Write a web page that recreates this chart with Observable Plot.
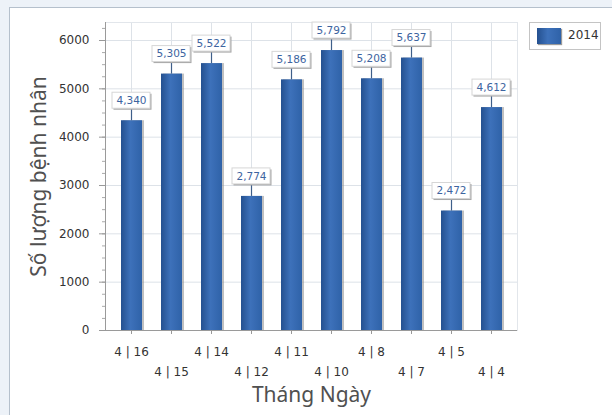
<!DOCTYPE html>
<html>
<head>
<meta charset="utf-8">
<script src="https://cdn.jsdelivr.net/npm/d3@7"></script>
<script src="https://cdn.jsdelivr.net/npm/@observablehq/plot@0.6"></script>
<style>
  html, body { margin: 0; padding: 0; }
  #wrap { position: relative; width: 612px; height: 415px; background: #edf2f8; overflow: hidden; }
  #panel { position: absolute; left: 9px; top: 7px; width: 620px; height: 430px; background: #fff; border: 1px solid #b5c0cc; }
  #chart { position: absolute; left: 0; top: 0; }
  #legend { position: absolute; left: 529px; top: 22px; width: 72px; height: 28px; border: 1px solid #c4c4c4; background: #fff; box-sizing: border-box; }
  #legend .sw { position: absolute; left: 7px; top: 5px; width: 24px; height: 16px; background: linear-gradient(to right, #24508f, #3d71ba 45%, #2f62a8); box-shadow: 1px 1px 1px #999; }
  #legend .lb { position: absolute; left: 38px; top: 5px; font: 12px "DejaVu Sans", sans-serif; color: #333; }
</style>
</head>
<body>
<div id="wrap">
  <div id="panel"></div>
  <div id="chart"></div>
  <div id="legend"><div class="sw"></div><div class="lb">2014</div></div>
</div>
<script>
const categories = ["4 | 16","4 | 15","4 | 14","4 | 12","4 | 11","4 | 10","4 | 8","4 | 7","4 | 5","4 | 4"];
const values2014 = [4340, 5305, 5522, 2774, 5186, 5792, 5208, 5637, 2472, 4612];
const yTicks = [0, 1000, 2000, 3000, 4000, 5000, 6000];
const xTitle = "Tháng Ngày";
const yTitle = "Số lượng bệnh nhân";
const seriesName = "2014";

const data = categories.map((c, i) => ({cat: c, v: values2014[i]}));
const rowA = categories.filter((c, i) => i % 2 === 0);
const rowB = categories.filter((c, i) => i % 2 === 1);

// pixel-to-unit helper for label offsets (plot height 308px spans yMax units)
const yMax = 6000 * 308 / 290;
const u = px => px * yMax / 308;

const chart = Plot.plot({
  width: 612,
  height: 415,
  marginLeft: 105,
  marginRight: 95,
  marginTop: 22,
  marginBottom: 85,
  style: {background: "transparent", fontFamily: "DejaVu Sans, sans-serif"},
  x: {type: "band", domain: categories, padding: 0.05, axis: null},
  y: {domain: [0, yMax], axis: null},
  marks: [
    Plot.gridY(yTicks, {stroke: "#dde2e8", strokeOpacity: 1}),
    Plot.gridX(categories, {stroke: "#dde2e8", strokeOpacity: 1}),
    Plot.frame({stroke: "#e2e6eb"}),
    // axis lines
    Plot.ruleY([0], {stroke: "#9a9a9a"}),
    Plot.frame({anchor: "left", stroke: "#9a9a9a"}),
    // y axis ticks & labels
    Plot.axisY(d3.range(0, 6300, 250), {tickSize: 3, tickFormat: () => "", stroke: "#aaa", label: null}),
    Plot.axisY(yTicks, {tickSize: 6, tickPadding: 10, fontSize: 12, color: "#333", label: null, stroke: "#999", tickFormat: d3.format("d")}),
    // x axis ticks & labels (two alternating rows)
    Plot.axisX({tickSize: 4, tickFormat: () => "", stroke: "#999", label: null}),
    Plot.axisX(rowA, {tickSize: 0, tickPadding: 17, fontSize: 12, color: "#333", label: null}),
    Plot.axisX(rowB, {tickSize: 0, tickPadding: 37, fontSize: 12, color: "#333", label: null}),
    // axis titles
    Plot.text([xTitle], {frameAnchor: "bottom", dy: 71, fontSize: 21, fill: "#505050", fontFamily: "Noto Sans, sans-serif"}),
    Plot.text([yTitle], {frameAnchor: "left", textAnchor: "middle", dx: -66, rotate: -90, fontSize: 21, fill: "#505050", fontFamily: "Noto Sans, sans-serif"}),
    // bar shadows and bars
    Plot.barY(data, {x: "cat", y: "v", dx: 2, insetLeft: 9, insetRight: 8, fill: "#8c8c8c", fillOpacity: 0.55}),
    Plot.barY(data, {x: "cat", y: "v", insetLeft: 9, insetRight: 8, fill: "url(#barGrad)"}),
    // whiskers
    Plot.ruleX(data, {x: "cat", y1: "v", y2: d => d.v + u(12), stroke: "#3e5f8a", strokeWidth: 1.2}),
    // label boxes
    Plot.barY(data, {x: "cat", y1: d => d.v + u(12), y2: d => d.v + u(28), dx: 1.5, dy: 1.5, insetLeft: 0, insetRight: 0, fill: "#a8a8a8"}),
    Plot.barY(data, {x: "cat", y1: d => d.v + u(12), y2: d => d.v + u(28), insetLeft: 0, insetRight: 0, fill: "#fff", stroke: "#d6d6d6"}),
    Plot.text(data, {x: "cat", y: d => d.v + u(20), text: d => d3.format(",")(d.v), fill: "#3d64a0", fontSize: 10.5, fontFamily: "DejaVu Sans, sans-serif"})
  ]
});

// gradient for bars
const svg = d3.select(chart);
const defs = svg.insert("defs", ":first-child");
const g = defs.append("linearGradient").attr("id", "barGrad").attr("x1", "0").attr("x2", "1").attr("y1", "0").attr("y2", "0");
g.append("stop").attr("offset", "0%").attr("stop-color", "#24508f");
g.append("stop").attr("offset", "45%").attr("stop-color", "#3d71ba");
g.append("stop").attr("offset", "100%").attr("stop-color", "#2f62a8");

document.getElementById("chart").appendChild(chart);
</script>
</body>
</html>
